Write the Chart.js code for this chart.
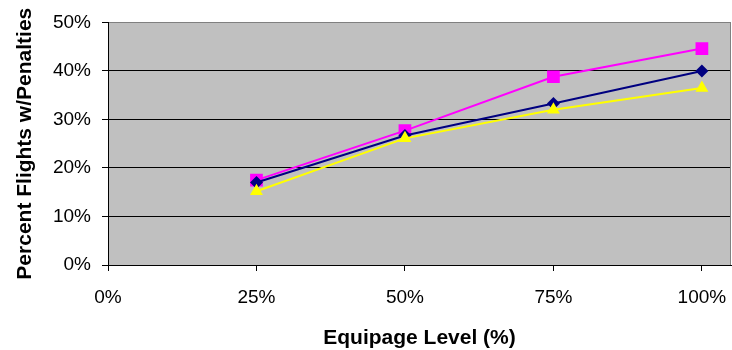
<!DOCTYPE html>
<html>
<head>
<meta charset="utf-8">
<script src="https://cdn.jsdelivr.net/npm/chart.js@4.4.1/dist/chart.umd.min.js"></script>
<style>
  body { margin: 0; background: #fff; }
  #wrap { width: 732px; height: 350px; }
</style>
</head>
<body>
<div id="wrap"><canvas id="myChart" width="732" height="350"></canvas></div>
<script>
// data
const levels = [25, 50, 75, 100];
const xTicks = [0, 25, 50, 75, 100];
const yTicks = [0, 10, 20, 30, 40, 50];
const navyVals = [17.0, 26.7, 33.3, 40.0];
const magentaVals = [17.5, 27.7, 38.8, 44.6];
const yellowVals = [15.2, 26.1, 32.0, 36.5];

const pts = (vals) => levels.map((x, i) => ({ x: x, y: vals[i] }));

// gray plot area plus its right edge
const plotBg = {
  id: 'plotBg',
  beforeDraw(chart) {
    const { ctx, chartArea: a } = chart;
    ctx.save();
    ctx.fillStyle = '#C0C0C0';
    ctx.fillRect(a.left, a.top, a.right - a.left, a.bottom - a.top);
    ctx.restore();
  },
  beforeDatasetsDraw(chart) {
    const { ctx, chartArea: a } = chart;
    ctx.save();
    ctx.strokeStyle = '#808080';
    ctx.lineWidth = 1;
    ctx.beginPath();
    ctx.moveTo(a.right - 0.5, a.top);
    ctx.lineTo(a.right - 0.5, a.bottom);
    ctx.stroke();
    ctx.restore();
  }
};

const tickFont = { family: "'Liberation Sans', Arial, sans-serif", size: 19 };
const titleFont = { family: "'Liberation Sans', Arial, sans-serif", size: 21, weight: 'bold', lineHeight: 1 };

const config = {
  type: 'scatter',
  data: {
    datasets: [
      {
        label: 'yellow',
        data: pts(yellowVals),
        showLine: true,
        borderColor: '#FFFF00',
        backgroundColor: '#FFFF00',
        borderWidth: 2,
        pointStyle: 'triangle',
        pointRadius: 7.5,
        pointBorderWidth: 0
      },
      {
        label: 'navy',
        data: pts(navyVals),
        showLine: true,
        borderColor: '#000080',
        backgroundColor: '#000080',
        borderWidth: 2,
        pointStyle: 'rectRot',
        pointRadius: 6.5,
        pointBorderWidth: 0
      },
      {
        label: 'magenta',
        data: pts(magentaVals),
        showLine: true,
        borderColor: '#FF00FF',
        backgroundColor: '#FF00FF',
        borderWidth: 2,
        pointStyle: 'rect',
        pointRadius: 9,
        pointBorderWidth: 0
      }
    ]
  },
  options: {
    responsive: false,
    animation: false,
    layout: { autoPadding: false, padding: { top: 19, right: 1, left: 0, bottom: 0 } },
    plugins: {
      legend: { display: false },
      tooltip: { enabled: false }
    },
    scales: {
      x: {
        type: 'linear',
        min: 0,
        max: 104.9,
        afterBuildTicks: (scale) => { scale.ticks = xTicks.map(v => ({ value: v })); },
        afterFit: (scale) => {
          scale.height = 85;
          scale.paddingLeft = 0;
          scale.paddingRight = 0;
        },
        border: { color: '#000', width: 1 },
        grid: { drawOnChartArea: false, drawTicks: true, tickLength: 6, tickColor: '#000' },
        ticks: {
          color: '#000',
          font: tickFont,
          padding: 15,
          maxRotation: 0,
          callback: (v) => v + '%'
        },
        title: {
          display: true,
          text: 'Equipage Level (%)',
          color: '#000',
          font: titleFont,
          padding: { top: 0, bottom: 1 }
        }
      },
      y: {
        min: 0,
        max: 50,
        afterBuildTicks: (scale) => { scale.ticks = yTicks.map(v => ({ value: v })); },
        afterFit: (scale) => { scale.width = 108; },
        border: { color: '#000', width: 1 },
        grid: {
          color: (c) => (c.tick && c.tick.value === 50 ? '#808080' : '#000'),
          tickColor: '#000',
          tickLength: 6,
          lineWidth: 1
        },
        ticks: {
          color: '#000',
          font: tickFont,
          padding: 11,
          callback: (v) => v + '%'
        },
        title: {
          display: true,
          text: 'Percent Flights w/Penalties',
          color: '#000',
          font: titleFont,
          padding: { top: 15, bottom: 0 }
        }
      }
    }
  },
  plugins: [plotBg]
};

const myChart = new Chart(document.getElementById('myChart'), config);
</script>
</body>
</html>
